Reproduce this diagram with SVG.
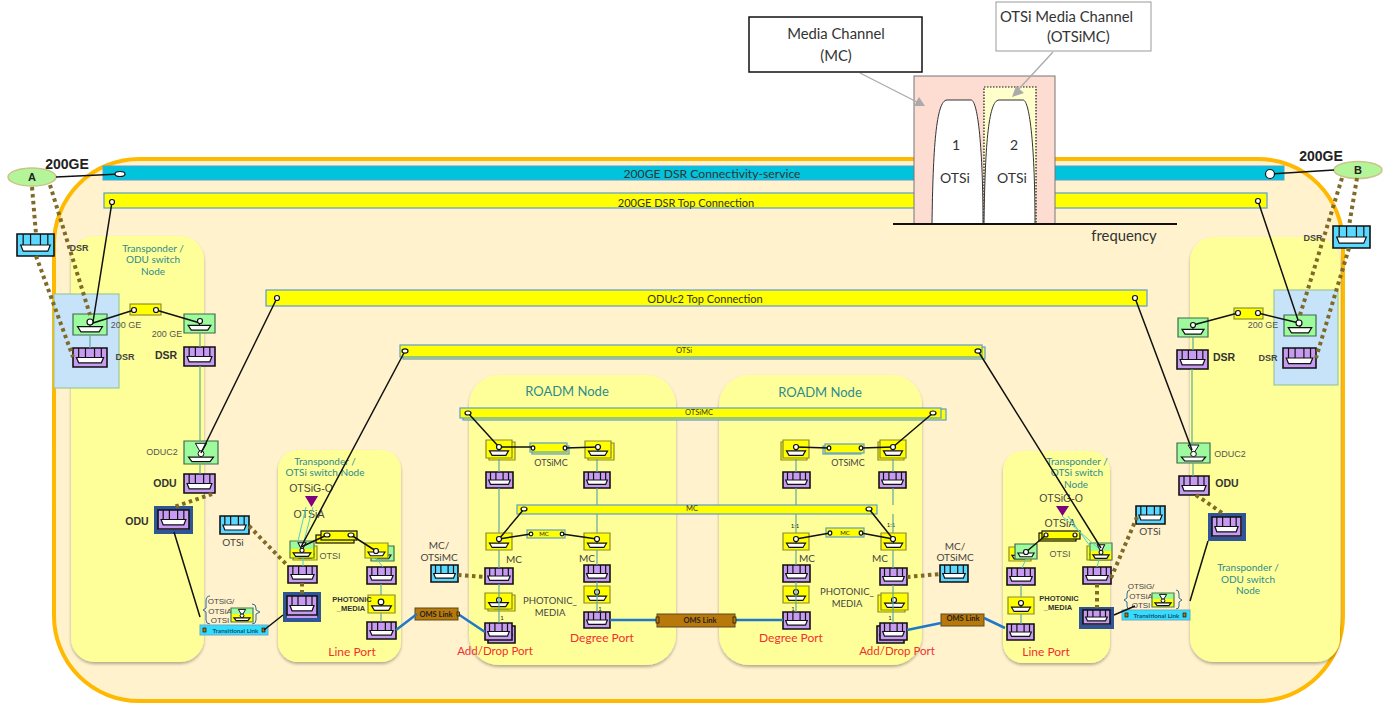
<svg xmlns="http://www.w3.org/2000/svg" width="1392" height="704" viewBox="0 0 1392 704">
<style>
text{font-family:"Lato","Liberation Sans",sans-serif;fill:#333;text-anchor:middle}
.ar{font-family:"Liberation Sans",Arial,sans-serif}
.teal{fill:#2e8b8b;font-size:10px}
.red{fill:#f03030;font-size:12px}
.b{font-weight:bold}
.gl{font-family:"Liberation Sans",sans-serif;font-size:9px;fill:#555}
.dsr{font-family:"Liberation Sans",sans-serif;font-size:9px;font-weight:bold;fill:#444}
.dsrb{font-family:"Liberation Sans",sans-serif;font-size:10.5px;font-weight:bold;fill:#333}
.lb{font-size:10px;fill:#444}
.ph{font-family:"Liberation Sans",sans-serif;font-size:7.5px;font-weight:bold;fill:#333}
.ph2{font-size:9.5px;fill:#444}
.tiny{font-size:7.5px;fill:#333}
.oms{font-size:7.5px;font-weight:bold;fill:#222}
.st{font-size:6px;fill:#222}
.tl{font-size:6.3px;font-weight:bold;fill:#14506a}
.ot{font-family:"Liberation Sans",sans-serif;font-size:8px;fill:#444}
.box{font-size:14px;fill:#333}
.call{font-size:14.8px;fill:#333}
.bar{fill:#ffff00;stroke:#5b9bd5;stroke-width:1.2}
.barb{fill:#ffff00;stroke:#111;stroke-width:1.2}
.bars{fill:#ffff00;stroke:#7a7a30;stroke-width:1}
.cont{fill:#ffff99;filter:url(#sh)}
.pp{fill:#c79bf2}
.pc{fill:#5bd8ff}
.ng{fill:#9dfb9d;stroke:#3c6a50}
.ny{fill:#ffff00;stroke:#8a8a30}
.nm{fill:url(#gy);stroke:#4d7a55}
.big{fill:#c79bf2;stroke:#2f5597;stroke-width:4}
.tlink{fill:#33ddff;stroke:#6fa7c7;stroke-width:1}
.omsb{fill:#b8790a;stroke:#5a4a20;stroke-width:1}
.brown{fill:#b8790a;stroke:#111;stroke-width:.7}
.bk{stroke:#111;stroke-width:1.5;fill:none}
.te{stroke:#5fa8a0;stroke-width:1.2;fill:none}
.cy{stroke:#4fd0c8;stroke-width:1;fill:none}
.dot{stroke:#7f6a28;stroke-width:4;stroke-dasharray:3.5 3.5;fill:none}
.oml{stroke:#1f78c8;stroke-width:2.5;fill:none}
.ep{fill:#fff;stroke:#111;stroke-width:1.2}
.brace{fill:none;stroke:#2f6f8f;stroke-width:1}
symbol{overflow:visible}
symbol *{vector-effect:non-scaling-stroke}
</style>
<defs>
<linearGradient id="gy" x1="0" y1="0" x2="0" y2="1"><stop offset=".45" stop-color="#9dfb9d"/><stop offset=".45" stop-color="#ffff00"/></linearGradient>
<filter id="sh" x="-5%" y="-5%" width="110%" height="110%"><feDropShadow dx="0" dy="2" stdDeviation="1.5" flood-color="#000" flood-opacity=".3"/></filter>
<symbol id="port" viewBox="0 0 30 18" preserveAspectRatio="none">
<rect x="0" y="0" width="30" height="18" stroke="#111" stroke-width="1.6"/>
<path d="M5 0V10M11 0V10M19 0V10M25 0V10" stroke="#111" stroke-width="1.2" fill="none"/>
<path d="M3 7H27L25 12H5Z" fill="#fff" stroke="#111" stroke-width="1.2" transform="translate(0 2)"/>
</symbol>
<symbol id="node" viewBox="0 0 30 20" preserveAspectRatio="none">
<rect x="0" y="0" width="30" height="20" stroke-width="1.2"/>
<path d="M4 12H26L23 17H7Z" fill="#fff" stroke="#111" stroke-width="1.2"/>
<path d="M15 8V12" stroke="#111" stroke-width="1.2"/>
</symbol>
<symbol id="nodet" viewBox="0 0 30 20" preserveAspectRatio="none">
<rect x="0" y="0" width="30" height="20" stroke-width="1.2"/>
<path d="M4 14H26L23 18H7Z" fill="#fff" stroke="#111" stroke-width="1.2"/>
<path d="M10 2H20L16 9H14Z" fill="#fff" stroke="#111" stroke-width="1"/>
<circle cx="15" cy="11" r="2.6" fill="#fff" stroke="#111" stroke-width="1"/>
</symbol>
</defs>

<rect width="1392" height="704" fill="#fff"/>

<g id="domain"><rect x="54" y="159" width="1289" height="542" rx="85" ry="85" fill="#fff2cc" stroke="#ffb900" stroke-width="4"/></g>

<g id="node-transponder-left">
<rect class="cont" x="71" y="236" width="133" height="426" rx="24"/>
<rect x="54" y="294" width="65" height="94" fill="#c7e3fa" stroke="#9ac89a" stroke-width="1.2"/>
<text class="teal" x="153" y="252">Transponder /</text><text class="teal" x="153" y="263">ODU switch</text><text class="teal" x="153" y="275">Node</text>
<use href="#node" class="ng" x="73" y="314" width="34" height="21"/>
<use href="#port" class="pp" x="73" y="348" width="34" height="19"/>
<use href="#node" class="ng" x="184" y="314" width="31" height="19"/>
<use href="#port" class="pp" x="184" y="347" width="31" height="19"/>
<rect class="bars" x="130" y="304" width="31" height="11"/>
<text class="gl" x="126" y="328">200 GE</text><text class="gl" x="167" y="337">200 GE</text>
<text class="dsr" x="125" y="360">DSR</text><text class="dsrb" x="166" y="359">DSR</text>
<use href="#nodet" class="ng" x="184" y="441" width="34" height="23"/>
<use href="#port" class="pp" x="184" y="474" width="31" height="19"/>
<text class="gl" x="162" y="455">ODUC2</text><text class="dsrb" x="165" y="487">ODU</text>
<rect class="big" x="156" y="508" width="35" height="24"/><use href="#port" class="pp" x="158" y="510" width="31" height="19"/>
<text class="dsrb" x="137" y="525">ODU</text>
</g>

<g id="node-otsi-left">
<rect class="cont" x="278" y="450" width="123" height="212" rx="20"/>
<text class="teal" x="325" y="465">Transponder /</text><text class="teal" x="325" y="476">OTSi switch Node</text>
<text class="ot" style="font-size:10.5px" x="311" y="492">OTSiG-O</text>
<path d="M305 496H318L311.500 507Z" fill="#7f007f"/>
<text class="ot" style="font-size:10.5px" x="309" y="518">OTSiA</text>
<use href="#node" class="ny" x="293" y="546" width="24" height="14"/>
<use href="#nodet" class="nm" x="290" y="541" width="24" height="17"/>
<use href="#port" class="pp" x="288" y="566" width="29" height="17"/>
<rect class="big" x="285" y="594" width="34" height="26"/><use href="#port" class="pp" x="287" y="596" width="30" height="19"/>
<rect class="barb" x="316" y="535" width="38" height="8"/><rect class="barb" x="321" y="531" width="36" height="9"/>
<text class="gl" x="330" y="559">OTSI</text>
<use href="#node" class="ng" x="371" y="546" width="23" height="15"/>
<use href="#node" class="ny" x="365" y="543" width="23" height="15"/>
<use href="#port" class="pp" x="367" y="567" width="29" height="17"/>
<use href="#node" class="ny" x="368" y="595" width="27" height="18"/>
<circle class="ep" cx="381" cy="602" r="2.8"/>
<use href="#port" class="pp" x="367" y="622" width="29" height="17"/>
<text class="ph" x="352" y="602">PHOTONIC</text><text class="ph" x="351" y="611">_MEDIA</text>
<text class="red" x="352" y="656">Line Port</text>
</g>

<g id="node-roadm-left">
<rect class="cont" x="469" y="375" width="207" height="290" rx="30"/>
<text class="teal" style="font-size:13px" x="567" y="396">ROADM Node</text>
<use href="#node" class="ny" x="489" y="442" width="26" height="18"/><use href="#node" class="ny" x="486" y="440" width="26" height="18"/>
<use href="#node" class="ny" x="588" y="443" width="26" height="17"/><use href="#node" class="ny" x="585" y="441" width="26" height="17"/>
<rect class="bar" x="532" y="446" width="37" height="8"/><rect class="bar" x="530" y="443" width="37" height="9"/>
<text class="lb" style="font-size:9px" x="551" y="466">OTSiMC</text>
<use href="#port" class="pp" x="486" y="472" width="27" height="16"/><use href="#port" class="pp" x="584" y="472" width="26" height="16"/>
<use href="#node" class="ny" x="486" y="533" width="26" height="17"/><use href="#node" class="ny" x="584" y="533" width="26" height="17"/>
<rect class="bar" x="527" y="530" width="38" height="8"/><text class="st" x="544" y="536">MC</text>
<text class="lb" x="514" y="563">MC</text><text class="lb" x="587" y="562">MC</text>
<use href="#port" class="pp" x="485" y="568" width="28" height="16"/><use href="#port" class="pp" x="584" y="565" width="26" height="17"/>
<use href="#node" class="ny" x="488" y="595" width="27" height="16"/><use href="#node" class="ny" x="485" y="593" width="27" height="16"/>
<use href="#node" class="ny" x="584" y="586" width="26" height="17"/>
<circle class="ep" cx="499" cy="600" r="2.5"/><circle class="ep" cx="597" cy="592" r="2.5"/>
<use href="#port" class="pp" x="488" y="626" width="27" height="17"/><use href="#port" class="pp" x="485" y="623" width="27" height="17"/>
<use href="#port" class="pp" x="584" y="612" width="26" height="16"/>
<text class="st" x="502" y="620">1</text><text class="st" x="600" y="611">1</text>
<text class="ph2" x="550" y="604">PHOTONIC_</text><text class="ph2" x="550" y="616">MEDIA</text>
<text class="red" x="602" y="642">Degree Port</text><text class="red" style="font-size:11.500px" x="495" y="655">Add/Drop Port</text>
</g>

<g id="node-roadm-right">
<rect class="cont" x="719" y="375" width="203" height="290" rx="30"/>
<text class="teal" style="font-size:13px" x="820" y="397">ROADM Node</text>
<use href="#node" class="ny" x="781" y="442" width="26" height="18"/><use href="#node" class="ny" x="783" y="440" width="26" height="18"/>
<use href="#node" class="ny" x="878" y="442" width="26" height="18"/><use href="#node" class="ny" x="880" y="440" width="26" height="18"/>
<rect class="bar" x="823" y="446" width="38" height="8"/><rect class="bar" x="825" y="444" width="39" height="9"/>
<text class="lb" style="font-size:9px" x="848" y="466">OTSiMC</text>
<use href="#port" class="pp" x="783" y="472" width="27" height="16"/><use href="#port" class="pp" x="879" y="472" width="27" height="16"/>
<use href="#node" class="ny" x="783" y="533" width="26" height="17"/><use href="#node" class="ny" x="881" y="533" width="25" height="17"/>
<rect class="bar" x="826" y="528" width="38" height="9"/><text class="st" x="845" y="535">MC</text>
<text class="st" x="795" y="528">1:1</text><text class="st" x="891" y="527">1:1</text>
<text class="lb" x="807" y="562">MC</text><text class="lb" x="880" y="562">MC</text>
<use href="#port" class="pp" x="783" y="565" width="27" height="17"/><use href="#port" class="pp" x="880" y="568" width="27" height="17"/>
<use href="#node" class="ny" x="783" y="586" width="26" height="17"/>
<use href="#node" class="ny" x="878" y="595" width="27" height="17"/><use href="#node" class="ny" x="881" y="593" width="27" height="17"/>
<circle class="ep" cx="796" cy="592" r="2.5"/><circle class="ep" cx="894" cy="600" r="2.5"/>
<use href="#port" class="pp" x="783" y="612" width="27" height="17"/>
<use href="#port" class="pp" x="877" y="626" width="27" height="17"/><use href="#port" class="pp" x="880" y="623" width="27" height="17"/>
<text class="st" x="793" y="611">1</text><text class="st" x="890" y="620">1</text>
<text class="ph2" x="847" y="595">PHOTONIC_</text><text class="ph2" x="847" y="607">MEDIA</text>
<text class="red" x="791" y="642">Degree Port</text><text class="red" style="font-size:11.500px" x="897" y="655">Add/Drop Port</text>
</g>

<g id="node-otsi-right">
<rect class="cont" x="1003" y="451" width="107" height="212" rx="20"/>
<text class="teal" x="1077" y="465">Transponder /</text><text class="teal" x="1077" y="476">OTSi switch</text><text class="teal" x="1076" y="488">Node</text>
<text class="ot" style="font-size:10.5px" x="1061" y="502">OTSiG-O</text>
<path d="M1056 506H1069L1062.500 516Z" fill="#7f007f"/>
<text class="ot" style="font-size:10.5px" x="1060" y="527">OTSiA</text>
<rect class="barb" x="1039" y="533" width="37" height="8"/><rect class="barb" x="1042" y="531" width="38" height="8"/>
<use href="#node" class="ny" x="1009" y="547" width="22" height="14"/><use href="#node" class="ng" x="1015" y="544" width="22" height="15"/>
<use href="#node" class="ny" x="1087" y="546" width="24" height="14"/><use href="#nodet" class="nm" x="1090" y="543" width="22" height="17"/>
<text class="gl" x="1060" y="557">OTSI</text>
<use href="#port" class="pp" x="1007" y="568" width="28" height="17"/><use href="#port" class="pp" x="1083" y="567" width="28" height="17"/>
<use href="#node" class="ny" x="1008" y="597" width="26" height="17"/><circle class="ep" cx="1021" cy="603" r="2.500"/>
<use href="#port" class="pp" x="1007" y="624" width="27" height="16"/>
<rect class="big" x="1081" y="609" width="31" height="18"/><use href="#port" class="pp" x="1083" y="610" width="27" height="14"/>
<text class="ph" x="1059" y="601">PHOTONIC</text><text class="ph" x="1058" y="610">_MEDIA</text>
<text class="red" x="1046" y="656">Line Port</text>
</g>

<g id="node-transponder-right">
<rect class="cont" x="1190" y="237" width="150" height="425" rx="24"/>
<rect x="1274" y="290" width="64" height="95" fill="#c7e3fa" stroke="#9ac89a" stroke-width="1.2"/>
<text class="teal" x="1248" y="571">Transponder /</text><text class="teal" x="1248" y="583">ODU switch</text><text class="teal" x="1248" y="594">Node</text>
<use href="#node" class="ng" x="1284" y="315" width="32" height="21"/>
<use href="#port" class="pp" x="1283" y="348" width="33" height="20"/>
<use href="#node" class="ng" x="1178" y="318" width="30" height="19"/>
<use href="#port" class="pp" x="1177" y="350" width="31" height="19"/>
<rect class="bars" x="1234" y="308" width="29" height="11"/>
<text class="gl" x="1263" y="328">200 GE</text>
<text class="dsrb" x="1224" y="361">DSR</text><text class="dsr" x="1268" y="361">DSR</text>
<use href="#nodet" class="ng" x="1177" y="443" width="33" height="20"/>
<use href="#port" class="pp" x="1179" y="476" width="30" height="19"/>
<text class="gl" x="1230" y="457">ODUC2</text><text class="dsrb" x="1227" y="487">ODU</text>
<rect class="big" x="1210" y="515" width="34" height="24"/><use href="#port" class="pp" x="1212" y="517" width="29" height="19"/>
</g>

<g id="bar-dsr-service"><rect x="103" y="166" width="1181" height="14" fill="#00c4dc" stroke="#5b9bd5" stroke-width="1"/><text x="712" y="178" style="font-size:12.2px">200GE DSR Connectivity-service</text></g>
<g id="bar-dsr-top"><rect class="bar" x="104" y="193" width="1163" height="15"/><text x="686" y="207" style="font-size:11px">200GE DSR Top Connection</text></g>
<g id="bar-oduc2"><rect class="bar" x="266" y="290" width="881" height="16"/><text x="705" y="303" style="font-size:11px">ODUc2 Top Connection</text></g>
<g id="bar-otsi"><rect class="bar" x="403" y="347" width="582" height="12"/><rect class="bar" x="400" y="345" width="582" height="12"/><text class="tiny" x="684" y="353">OTSi</text></g>
<g id="bar-otsimc"><rect class="bar" x="463" y="409" width="483" height="11"/><rect class="bar" x="460" y="408" width="481" height="10"/><text class="tiny" x="699" y="415">OTSiMC</text></g>
<g id="bar-mc"><rect class="bar" x="517" y="505" width="360" height="9"/><text class="tiny" x="692" y="511">MC</text></g>

<g id="endpoint-a"><ellipse cx="32" cy="177" rx="24" ry="9" fill="#b5f59a" stroke="#c8c48a" stroke-width="1.5"/><text class="ar b" style="font-size:11px;fill:#222" x="32" y="181">A</text><text class="ar b" style="font-size:14px;fill:#222" x="67" y="169">200GE</text></g>
<g id="endpoint-b"><ellipse cx="1358" cy="170" rx="24" ry="8.500" fill="#b5f59a" stroke="#c8c48a" stroke-width="1.5"/><text class="ar b" style="font-size:11px;fill:#222" x="1358" y="174">B</text><text class="ar b" style="font-size:14px;fill:#222" x="1321" y="161">200GE</text></g>

<g id="node-cep-a"><use href="#port" class="pc" x="17" y="234" width="37" height="22"/><text class="dsr" x="79" y="251">DSR</text></g>
<g id="node-cep-b"><use href="#port" class="pc" x="1333" y="226" width="37" height="22"/><text class="dsr" x="1313" y="241">DSR</text></g>
<g id="node-cep-otsi-l"><use href="#port" class="pc" x="220" y="516" width="29" height="18"/><text class="lb" x="233" y="546">OTSi</text></g>
<g id="node-cep-otsi-r"><use href="#port" class="pc" x="1136" y="506" width="29" height="18"/><text class="lb" x="1150" y="535">OTSi</text></g>
<g id="node-cep-mc-l"><use href="#port" class="pc" x="431" y="565" width="27" height="17"/><text class="lb" x="439" y="549">MC/</text><text class="lb" x="439" y="561">OTSiMC</text></g>
<g id="node-cep-mc-r"><use href="#port" class="pc" x="940" y="565" width="28" height="17"/><text class="lb" x="955" y="550">MC/</text><text class="lb" x="955" y="561">OTSiMC</text></g>

<g id="link-oms-1"><rect class="omsb" x="415" y="608" width="43" height="12"/><text class="oms" x="436" y="617">OMS Link</text></g>
<g id="link-oms-2"><rect class="omsb" x="657" y="614" width="78" height="13"/><text class="oms" x="700" y="623">OMS Link</text></g>
<g id="link-oms-3"><rect class="omsb" x="941" y="614" width="43" height="12"/><text class="oms" x="963" y="621">OMS Link</text></g>

<g id="link-transitional-l">
<path class="brace" d="M210 596Q206 596 206 601V608L203 610L206 612V620Q206 624 210 624M252 604Q256 604 256 608V610L260 612L256 614V620Q256 624 252 624"/>
<text class="ot" x="221" y="604">OTSiG/</text><text class="ot" x="220" y="614">OTSiA</text><text class="ot" x="220" y="623">OTSI</text>
<use href="#nodet" class="nm" x="231" y="608" width="22" height="14"/>
<rect class="tlink" x="200" y="625" width="68" height="10"/><text class="tl" x="235.500" y="632.500">Transitional Link</text>
<rect class="brown" x="203" y="628" width="3" height="4"/><rect class="brown" x="262" y="628" width="3" height="4"/>
</g>
<g id="link-transitional-r">
<path class="brace" d="M1130 590Q1127 590 1127 594V598L1124 600L1127 602V606Q1127 609 1130 609M1176 590Q1179 590 1179 594V598L1182 600L1179 602V606Q1179 609 1176 609"/>
<text class="ot" x="1141" y="589">OTSiG/</text><text class="ot" x="1141" y="599">OTSiA</text><text class="ot" x="1141" y="608">OTSI</text>
<use href="#nodet" class="nm" x="1152" y="593" width="22" height="14"/>
<rect class="tlink" x="1122" y="610" width="68" height="10"/><text class="tl" x="1156.500" y="617.500">Transitional Link</text>
<rect class="brown" x="1125" y="613" width="3" height="4"/><rect class="brown" x="1183" y="613" width="3" height="4"/>
</g>

<g id="connectors">
<path class="te" d="M90 335V348M200 333V347M200 366V441M200 464V474"/>
<path class="te" d="M1193 337V350M1192 369V443M1193 463V476"/>
<path class="cy" d="M306 507L298 541M313 507L304 541M303 558L303 566M376 558L383 567M1062 516L1098 548M1068 516L1090 546M1099 560L1097 567M1026 559L1022 568"/>
<path class="te" d="M381 584V595M381 613V622M1021 585V597M1021 614V624"/>
<path class="te" d="M499 459V472M499 488V533M499 550V568M499 584V623M597 459V472M597 488V505M597 514V533M597 550V565M597 582V612"/>
<path class="te" d="M796 459V472M796 488V505M796 514V533M796 550V565M796 582V612M893 459V472M893 488V505M893 514V533M893 550V568M893 585V623"/>
<path class="dot" d="M32 187L36 234M36 256L73 357M50 185L90 315"/>
<path class="dot" d="M1342 178L1300 315M1357 178L1349 226M1349 248L1316 358"/>
<path class="dot" d="M212 494L174 507M249 526L288 566M302 583V594"/>
<path class="dot" d="M1196 495L1225 515M1111 578L1137 517M1097 584V608"/>
<path class="dot" d="M458 575L485 577M907 577L940 574"/>
<path class="bk" d="M56 177L120 174M112 202L93 322M93 323L134 310M156 310L200 323"/>
<path class="bk" d="M1334 170L1270 174M1258 201L1299 323M1299 323L1258 313M1238 313L1193 325"/>
<path class="bk" d="M277 298L201 453M1135 298L1192 450M405 351L301 547M978 351L1101 548"/>
<path class="bk" d="M327 535L301 547M351 535L376 551M1046 535L1026 552"/>
<path class="bk" d="M174 532L200 617M264 630L283 615M1190 601L1208 541M1114 615L1135 606"/>
<path class="bk" d="M468 413L499 447M933 413L893 447M524 509L499 539M869 509L893 539"/>
<path class="bk" d="M499 447L533 447M565 448L598 447M796 447L829 448M861 448L893 447M499 539L531 534M562 534L597 539M796 539L830 533M861 533L893 539"/>
<path class="oml" d="M396 630L417 614M458 614L485 632M610 620H657M735 620H783M907 630L941 623M984 618L1005 628"/>
<ellipse class="ep" cx="120" cy="174" rx="5" ry="2.500"/><circle class="ep" cx="1270" cy="174" r="4.500"/>
<circle class="ep" cx="112" cy="202" r="2.500"/><circle class="ep" cx="1258" cy="201" r="2.500"/>
<circle class="ep" cx="277" cy="298" r="2.500"/><circle class="ep" cx="1135" cy="298" r="2.500"/>
<ellipse class="ep" cx="405" cy="351" rx="3" ry="2.200"/><ellipse class="ep" cx="978" cy="351" rx="3" ry="2.200"/>
<ellipse class="ep" cx="468" cy="413" rx="3" ry="2"/><ellipse class="ep" cx="933" cy="413" rx="3" ry="2"/>
<ellipse class="ep" cx="524" cy="509" rx="3" ry="2"/><ellipse class="ep" cx="869" cy="509" rx="3" ry="2"/>
<circle class="ep" cx="90" cy="322" r="3"/><circle class="ep" cx="200" cy="321" r="2.500"/>
<circle class="ep" cx="1299" cy="323" r="3"/><circle class="ep" cx="1193" cy="325" r="2.500"/>
<circle class="ep" cx="134" cy="310" r="2.500"/><circle class="ep" cx="156" cy="310" r="2.500"/>
<circle class="ep" cx="1238" cy="313" r="2.500"/><circle class="ep" cx="1258" cy="313" r="2.500"/>
<ellipse class="ep" cx="327" cy="535" rx="3" ry="2"/><ellipse class="ep" cx="351" cy="535" rx="3" ry="2"/>
<circle class="ep" cx="376" cy="551" r="2.500"/><circle class="ep" cx="1026" cy="552" r="2.500"/>
<circle class="ep" cx="1046" cy="535" r="2"/><circle class="ep" cx="1075" cy="535" r="2"/>
<circle class="ep" cx="499" cy="447" r="2.500"/><circle class="ep" cx="598" cy="447" r="2.500"/><circle class="ep" cx="796" cy="447" r="2.500"/><circle class="ep" cx="893" cy="447" r="2.500"/>
<circle class="ep" cx="499" cy="539" r="2.500"/><circle class="ep" cx="597" cy="539" r="2.500"/><circle class="ep" cx="796" cy="539" r="2.500"/><circle class="ep" cx="893" cy="539" r="2.500"/>
<ellipse class="ep" cx="533" cy="448" rx="1.800" ry="2.200"/><ellipse class="ep" cx="565" cy="448" rx="1.800" ry="2.200"/><ellipse class="ep" cx="829" cy="448" rx="1.800" ry="2.200"/><ellipse class="ep" cx="861" cy="448" rx="1.800" ry="2.200"/>
<circle class="ep" cx="531" cy="534" r="1.800"/><circle class="ep" cx="562" cy="534" r="1.800"/><ellipse class="ep" cx="830" cy="533" rx="1.800" ry="2.200"/><ellipse class="ep" cx="861" cy="533" rx="1.800" ry="2.200"/>
<rect class="brown" x="457" y="612" width="2.500" height="4"/><rect class="brown" x="733" y="617" width="3" height="6"/><rect class="brown" x="656" y="617" width="3" height="6"/>
</g>

<g id="media-spectrum">
<rect x="914" y="76" width="141" height="148" fill="#fddcd2" stroke="#777" stroke-width="1"/>
<rect x="984" y="87" width="52" height="137" fill="#ffffcc" stroke="#111" stroke-width="1.2" stroke-dasharray="1.500 1.500"/>
<path d="M932 224C933 150 936 100 947 100H971C978 100 983 150 983 224Z" fill="#fff" stroke="#333" stroke-width="1"/>
<path d="M984 224C985 150 988 100 999 100H1023C1030 100 1035 150 1035 224Z" fill="#fff" stroke="#333" stroke-width="1"/>
<path d="M893 224H1177" stroke="#111" stroke-width="2"/>
<text class="box" x="956" y="150">1</text><text class="box" x="955" y="183">OTSi</text>
<text class="box" x="1014" y="150">2</text><text class="box" x="1012" y="183">OTSi</text>
<text class="call" x="1124" y="241">frequency</text>
<path d="M860 73L917 102" stroke="#aaa" stroke-width="1.300" fill="none"/><path d="M925 106L914 106L919 97Z" fill="#aaa"/>
<path d="M1053 52L1017 91" stroke="#aaa" stroke-width="1.300" fill="none"/><path d="M1012 97L1016 86L1024 93Z" fill="#aaa"/>
</g>
<g id="callout-mc"><rect x="749" y="17" width="173" height="55" fill="#fff" stroke="#111" stroke-width="1.500"/><text class="call" x="836" y="39">Media Channel</text><text class="call" x="836" y="61">(MC)</text></g>
<g id="callout-otsimc"><rect x="996" y="2" width="155" height="49" fill="#fff" stroke="#999" stroke-width="1"/><text class="call" style="text-anchor:start" x="1000" y="22">OTSi Media Channel</text><text class="call" style="text-anchor:start" x="1047" y="42">(OTSiMC)</text></g>
</svg>
